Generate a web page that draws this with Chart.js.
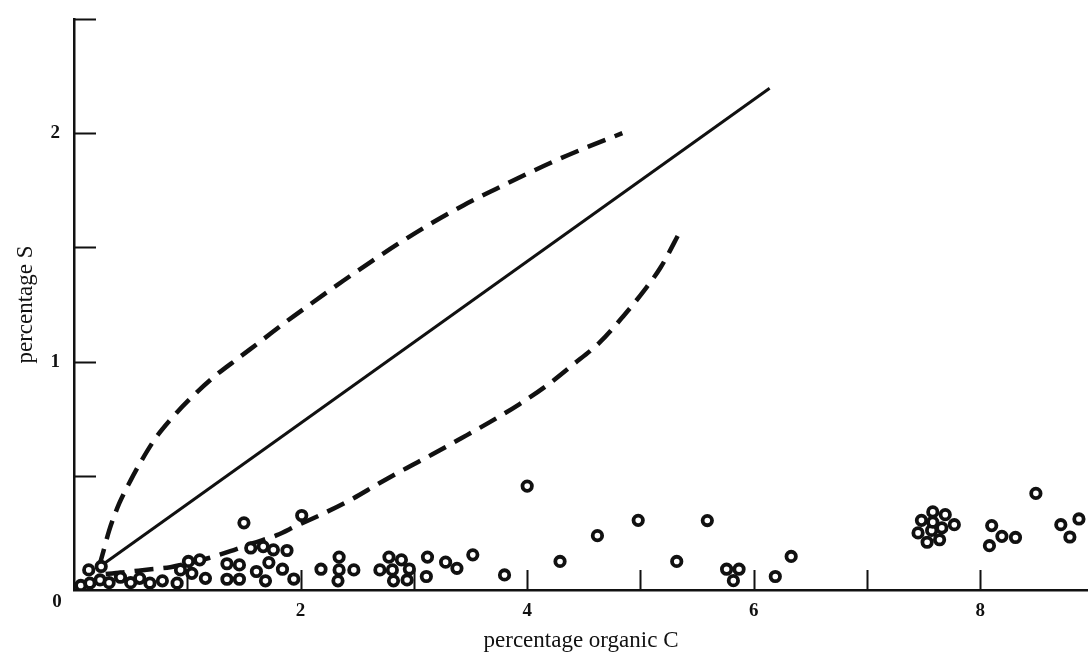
<!DOCTYPE html>
<html>
<head>
<meta charset="utf-8">
<title>percentage S against percentage organic C</title>
<script src="https://cdn.jsdelivr.net/npm/chart.js@4.4.1/dist/chart.umd.min.js"></script>
<style>
  html, body { margin: 0; padding: 0; background: #fff; overflow: hidden; }
  #wrap { width: 1088px; height: 655px; }
</style>
</head>
<body>
<div id="wrap"><canvas id="sulphurChart"></canvas></div>
<script>
// measured samples (open circles)
const sampleC = [0.06, 0.13, 0.24, 0.14, 0.23, 0.31, 0.41, 0.50, 0.58, 0.67, 0.78, 0.91,
  0.94, 1.01, 1.11, 1.04, 1.16, 1.50, 2.01, 1.35, 1.46, 1.35, 1.46, 1.56, 1.67, 1.76,
  1.88, 1.61, 1.72, 1.69, 1.84, 1.94,
  2.18, 2.34, 2.34, 2.33, 2.47, 2.70, 2.78, 2.89, 2.81, 2.82, 2.94, 2.96, 3.12, 3.11,
  3.28, 3.38, 3.52, 3.80,
  4.00, 4.29, 4.62, 4.98, 5.32, 5.59, 5.76, 5.87, 5.82, 6.19, 6.33,
  7.48, 7.58, 7.69, 7.77, 7.45, 7.53, 7.64, 7.57, 7.66, 7.58,
  8.10, 8.19, 8.31, 8.08, 8.49, 8.71, 8.79, 8.87];
const sampleS = [0.02, 0.088, 0.103, 0.03, 0.044, 0.032, 0.056, 0.032, 0.051, 0.03, 0.04, 0.03,
  0.088, 0.125, 0.132, 0.073, 0.051, 0.294, 0.326, 0.115, 0.11, 0.047, 0.047, 0.184, 0.19, 0.176,
  0.173, 0.081, 0.12, 0.04, 0.091, 0.048,
  0.091, 0.144, 0.088, 0.04, 0.088, 0.088, 0.144, 0.132, 0.088, 0.04, 0.044, 0.092, 0.144, 0.059,
  0.122, 0.095, 0.154, 0.066,
  0.455, 0.125, 0.238, 0.305, 0.125, 0.304, 0.091, 0.091, 0.041, 0.059, 0.147,
  0.305, 0.342, 0.33, 0.286, 0.25, 0.209, 0.22, 0.261, 0.272, 0.297,
  0.282, 0.235, 0.23, 0.194, 0.423, 0.286, 0.232, 0.311];

// upper dashed limit
const upperC = [0.22, 0.26, 0.31, 0.40, 0.50, 0.60, 0.72, 0.85, 1.01, 1.24, 1.45, 1.65,
  1.86, 2.11, 2.38, 2.63, 2.89, 3.17, 3.44, 3.72, 3.99, 4.25, 4.51, 4.84];
const upperS = [0.10, 0.17, 0.26, 0.38, 0.48, 0.57, 0.665, 0.745, 0.83, 0.935, 1.015, 1.09,
  1.17, 1.26, 1.355, 1.44, 1.525, 1.61, 1.685, 1.755, 1.82, 1.88, 1.935, 2.00];

// lower dashed limit
const lowerC = [0.28, 0.45, 0.66, 0.85, 1.02, 1.19, 1.38, 1.58, 1.79, 1.96, 2.21, 2.46,
  2.69, 2.91, 3.16, 3.41, 3.67, 3.93, 4.17, 4.40, 4.64, 4.85, 5.03, 5.18, 5.36];
const lowerS = [0.07, 0.078, 0.09, 0.10, 0.118, 0.14, 0.17, 0.205, 0.24, 0.28, 0.337, 0.40,
  0.466, 0.527, 0.593, 0.662, 0.735, 0.813, 0.894, 0.985, 1.084, 1.20, 1.31, 1.414, 1.58];

// solid mean line
const trendC = [0.22, 6.14];
const trendS = [0.10, 2.197];

const xTicks = [0, 1, 2, 3, 4, 5, 6, 7, 8];
const xLabels = [2, 4, 6, 8];
const yTicks = [0, 0.5, 1, 1.5, 2, 2.5];
const yLabels = [1, 2];

function pairs(xs, ys) {
  return xs.map(function (x, i) { return { x: x, y: ys[i] }; });
}

const serif = "'Liberation Serif', 'Times New Roman', serif";
const ink = '#111';

// short tick marks pointing into the plot, and the shared 0 at the corner
const innerTicks = {
  id: 'innerTicks',
  afterDraw(chart) {
    const { ctx, chartArea } = chart;
    const xs = chart.scales.x, ys = chart.scales.y;
    ctx.save();
    ctx.strokeStyle = ink;
    ctx.lineWidth = 2;
    ctx.beginPath();
    xTicks.forEach(function (v) {
      if (v === 0) return;
      const px = Math.round(xs.getPixelForValue(v)) + 0.5;
      ctx.moveTo(px, chartArea.bottom);
      ctx.lineTo(px, chartArea.bottom - 20);
    });
    yTicks.forEach(function (v) {
      if (v === 0) return;
      const py = Math.round(ys.getPixelForValue(v)) + 0.5;
      ctx.moveTo(chartArea.left, py);
      ctx.lineTo(chartArea.left + 22, py);
    });
    ctx.stroke();
    ctx.fillStyle = ink;
    ctx.font = 'bold 19px ' + serif;
    ctx.textAlign = 'center';
    ctx.textBaseline = 'middle';
    ctx.fillText('0', xs.getPixelForValue(0) - 17, ys.getPixelForValue(0) + 12);
    ctx.restore();
  }
};

document.addEventListener("DOMContentLoaded", function () {

  const ctx = document.getElementById('sulphurChart');
  if (!ctx) return;

  new Chart(ctx, {
    type: 'scatter',
    data: {
      datasets: [
        {
          label: 'samples',
          data: pairs(sampleC, sampleS),
          pointRadius: 4.7,
          pointBorderWidth: 3.8,
          borderColor: ink,
          backgroundColor: '#fff'
        },
        {
          label: 'upper limit',
          data: pairs(upperC, upperS),
          showLine: true,
          borderColor: ink,
          borderWidth: 4.5,
          borderDash: [19, 10],
          pointRadius: 0,
          cubicInterpolationMode: 'monotone'
        },
        {
          label: 'lower limit',
          data: pairs(lowerC, lowerS),
          showLine: true,
          borderColor: ink,
          borderWidth: 4.5,
          borderDash: [19, 10],
          pointRadius: 0,
          cubicInterpolationMode: 'monotone'
        },
        {
          label: 'mean',
          data: pairs(trendC, trendS),
          showLine: true,
          borderColor: ink,
          borderWidth: 3,
          pointRadius: 0
        }
      ]
    },
    options: {
      responsive: true,
      maintainAspectRatio: false,
      animation: false,
      events: [],
      layout: { autoPadding: false, padding: { top: 19, right: 0, bottom: 0, left: 0 } },
      plugins: {
        legend: { display: false },
        tooltip: { enabled: false }
      },
      scales: {
        x: {
          type: 'linear',
          min: 0,
          max: 8.95,
          afterBuildTicks: function (s) { s.ticks = xTicks.map(function (v) { return { value: v }; }); },
          afterFit: function (s) { s.height = 65; s.paddingLeft = 0; s.paddingRight = 0; },
          grid: { drawOnChartArea: false, drawTicks: false },
          border: { color: ink, width: 2.5 },
          ticks: {
            autoSkip: false,
            maxRotation: 0,
            padding: 10,
            color: ink,
            font: { family: serif, size: 19, weight: 'bold' },
            callback: function (v) { return xLabels.includes(v) ? String(v) : ''; }
          },
          title: {
            display: true,
            text: 'percentage organic C',
            color: ink,
            font: { family: serif, size: 23 },
            padding: { top: 4, bottom: 0 }
          }
        },
        y: {
          type: 'linear',
          min: 0,
          max: 2.5,
          afterBuildTicks: function (s) { s.ticks = yTicks.map(function (v) { return { value: v }; }); },
          afterFit: function (s) { s.width = 74; s.paddingTop = 0; s.paddingBottom = 0; },
          grid: { drawOnChartArea: false, drawTicks: false },
          border: { color: ink, width: 2.5 },
          ticks: {
            autoSkip: false,
            padding: 14,
            color: ink,
            font: { family: serif, size: 19, weight: 'bold' },
            callback: function (v) { return yLabels.includes(v) ? String(v) : ''; }
          },
          title: {
            display: true,
            text: 'percentage S',
            color: ink,
            font: { family: serif, size: 23 },
            padding: { top: 12, bottom: 0 }
          }
        }
      }
    },
    plugins: [innerTicks]
  });

});
</script>
</body>
</html>
